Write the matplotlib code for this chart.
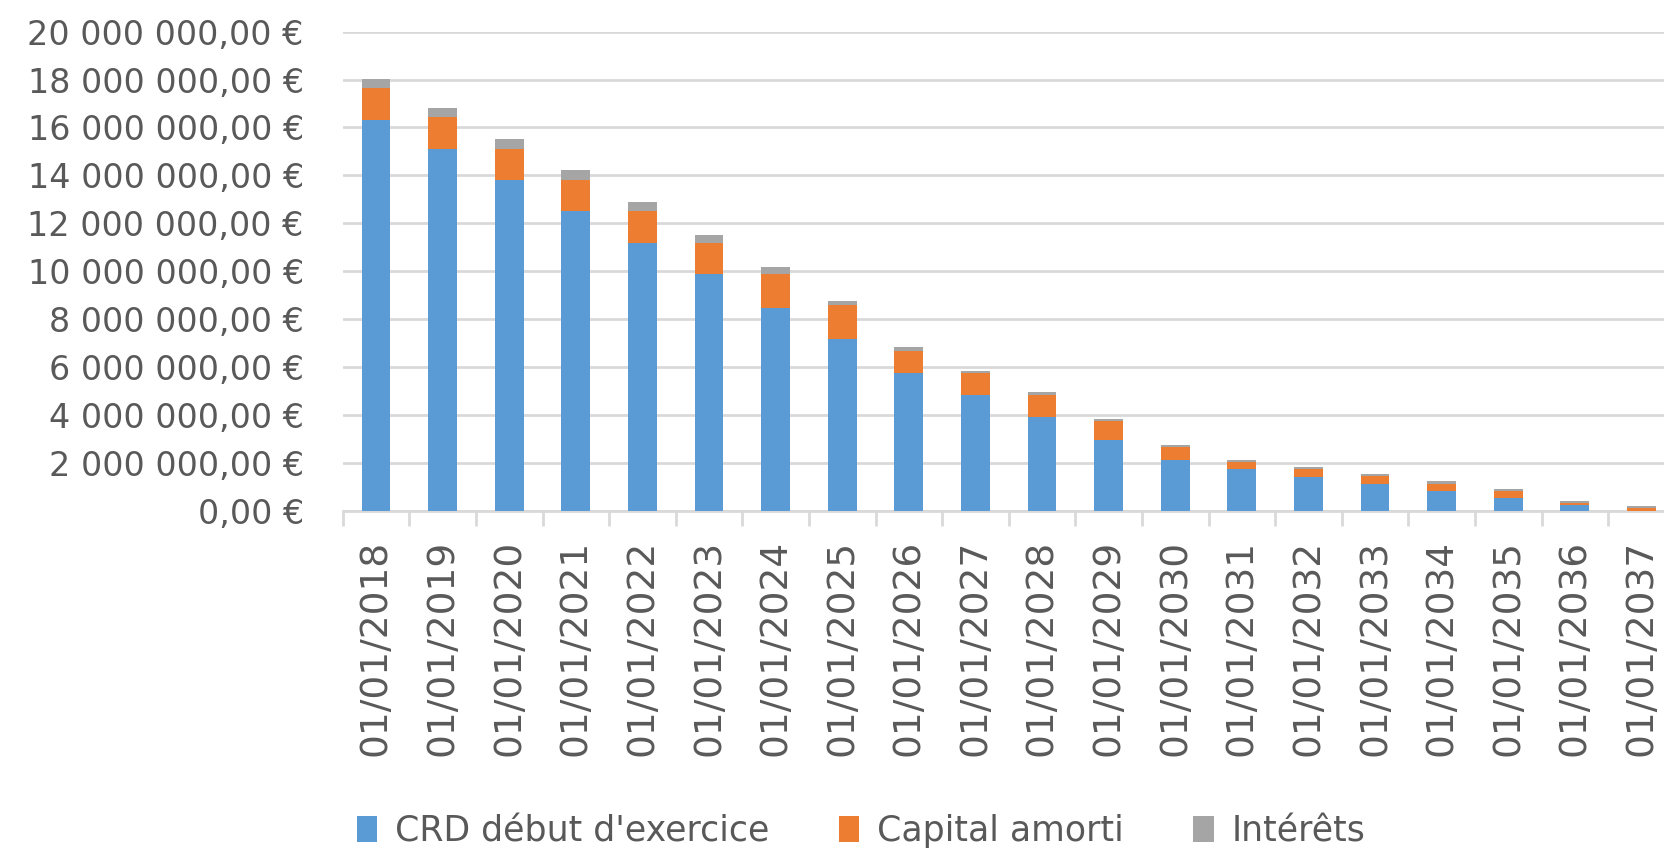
import matplotlib.pyplot as plt
import numpy as np
from matplotlib.ticker import FuncFormatter

# Tableau d'amortissement (en millions d'euros)
dates = ["01/01/%d" % y for y in range(2018, 2038)]
crd = [16.31, 15.11, 13.81, 12.50, 11.19, 9.88, 8.48, 7.16, 5.74, 4.84,
       3.93, 2.94, 2.13, 1.73, 1.42, 1.13, 0.82, 0.52, 0.23, 0.0]
capital = [1.32, 1.31, 1.30, 1.31, 1.31, 1.31, 1.40, 1.42, 0.92, 0.92,
           0.91, 0.81, 0.52, 0.32, 0.33, 0.31, 0.31, 0.32, 0.10, 0.12]
interets = [0.39, 0.39, 0.39, 0.40, 0.40, 0.31, 0.31, 0.18, 0.19, 0.09,
            0.10, 0.09, 0.09, 0.07, 0.07, 0.08, 0.09, 0.07, 0.09, 0.09]
series_labels = ["CRD début d'exercice", "Capital amorti", "Intérêts"]

TXT = "#595959"
GRID = "#d9d9d9"
colors = ["#5b9bd5", "#ed7d31", "#a5a5a5"]

plt.rcParams["font.family"] = ["DejaVu Sans"]

fig = plt.figure(figsize=(16.65, 8.49), dpi=100)
ax = fig.add_axes([342.7 / 1665, 1 - 510.7 / 849, 1332 / 1665, (510.7 - 31.7) / 849])

x = np.arange(len(dates))
crd_e = np.array(crd) * 1e6
cap_e = np.array(capital) * 1e6
int_e = np.array(interets) * 1e6

w = 0.43
ax.bar(x, crd_e, w, color=colors[0], label=series_labels[0], zorder=3)
ax.bar(x, cap_e, w, bottom=crd_e, color=colors[1], label=series_labels[1], zorder=3)
ax.bar(x, int_e, w, bottom=crd_e + cap_e, color=colors[2], label=series_labels[2], zorder=3)

ax.set_xlim(-0.5, len(dates) - 0.5)
ax.set_ylim(0, 20e6)
ax.set_yticks(np.arange(0, 20e6 + 1, 2e6))


def euro(v, pos):
    s = "{:,.2f}".format(v).replace(",", " ").replace(".", ",")
    return s + " €"


ax.yaxis.set_major_formatter(FuncFormatter(euro))
ax.grid(axis="y", color=GRID, linewidth=2, zorder=0)

ax.set_xticks(x)
ax.set_xticklabels(dates, rotation=90, va="top", ha="center")
ax.set_xticks(np.arange(-0.5, len(dates), 1), minor=True)
ax.tick_params(axis="x", which="major", length=0, pad=21, labelsize=27, labelcolor=TXT)
ax.tick_params(axis="x", which="minor", length=11, width=2, color=GRID)
ax.tick_params(axis="y", length=0, pad=28, labelsize=24, labelcolor=TXT)

for side in ["top", "right", "left"]:
    ax.spines[side].set_visible(False)
ax.spines["bottom"].set_color(GRID)
ax.spines["bottom"].set_linewidth(2)

leg = fig.legend(loc="center", bbox_to_anchor=(0.517, 0.021), ncol=3, frameon=False,
                 fontsize=25, handlelength=0.6, handleheight=0.75, handletextpad=0.5,
                 columnspacing=2.0)
for t in leg.get_texts():
    t.set_color(TXT)

fig.savefig("out.png", dpi=100)
